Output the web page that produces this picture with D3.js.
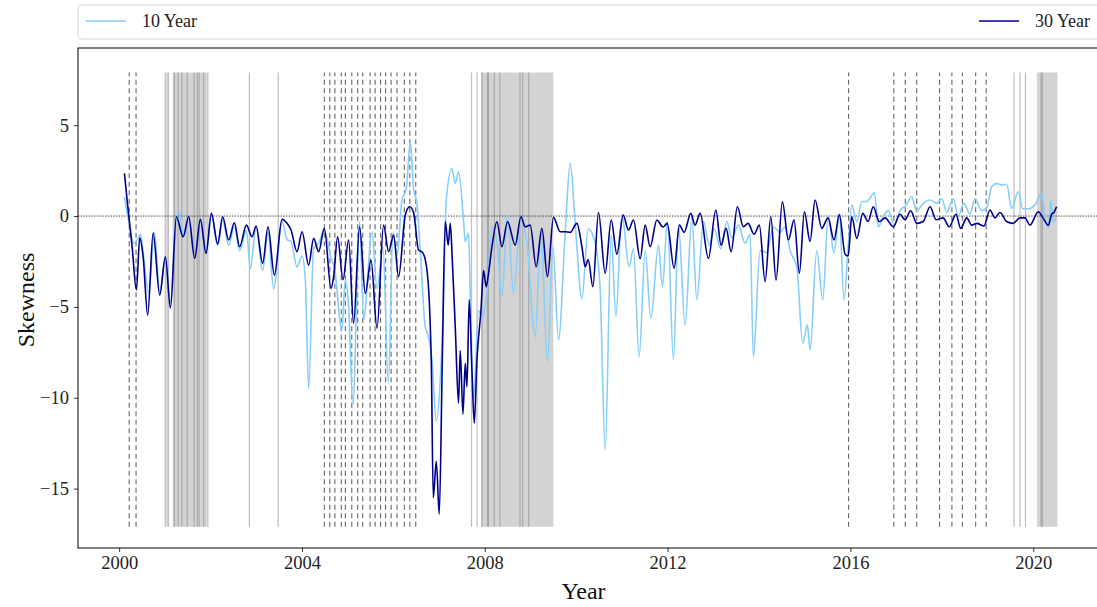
<!DOCTYPE html>
<html>
<head>
<meta charset="utf-8">
<script src="https://cdn.jsdelivr.net/npm/d3@7"></script>
<style>
  html, body { margin: 0; padding: 0; background: #fff; }
  svg { display: block; font-family: "Liberation Serif", "Times New Roman", serif; }
</style>
</head>
<body>
<svg id="chart" width="1097" height="607"></svg>
<script>
// ---- Skewness of the 10-year series (decimal year, value) ----
const years10 = [2000.116,2000.16,2000.247,2000.313,2000.394,2000.466,2000.525,2000.647,2000.772,2000.888,2001.012,2001.122,2001.253,2001.325,2001.4,2001.522,2001.653,2001.778,2001.902,2002.018,2002.156,2002.265,2002.397,2002.521,2002.637,2002.784,2002.871,2002.996,2003.14,2003.258,2003.38,2003.564,2003.674,2003.761,2003.892,2004.002,2004.074,2004.146,2004.255,2004.365,2004.489,2004.636,2004.708,2004.876,2004.948,2005.021,2005.113,2005.261,2005.349,2005.532,2005.642,2005.773,2005.889,2005.992,2006.079,2006.188,2006.282,2006.37,2006.442,2006.516,2006.589,2006.698,2006.764,2006.845,2006.939,2007.026,2007.098,2007.157,2007.282,2007.354,2007.426,2007.535,2007.573,2007.645,2007.682,2007.754,2007.864,2007.944,2008.047,2008.157,2008.266,2008.375,2008.498,2008.629,2008.791,2008.922,2009.103,2009.228,2009.372,2009.49,2009.613,2009.76,2009.869,2009.978,2010.125,2010.263,2010.415,2010.524,2010.635,2010.766,2010.868,2010.999,2011.158,2011.253,2011.378,2011.509,2011.633,2011.8,2011.887,2011.996,2012.128,2012.237,2012.383,2012.53,2012.64,2012.784,2012.915,2013.018,2013.164,2013.295,2013.405,2013.549,2013.696,2013.805,2013.877,2014.024,2014.17,2014.315,2014.461,2014.57,2014.68,2014.826,2014.957,2015.058,2015.117,2015.263,2015.394,2015.516,2015.64,2015.758,2015.861,2015.955,2016.03,2016.14,2016.25,2016.36,2016.43,2016.525,2016.61,2016.72,2016.83,2016.955,2017.085,2017.217,2017.341,2017.45,2017.595,2017.743,2017.888,2017.998,2018.107,2018.25,2018.36,2018.484,2018.617,2018.725,2018.871,2018.98,2019.09,2019.2,2019.31,2019.418,2019.528,2019.672,2019.768,2019.891,2020.037,2020.183,2020.255,2020.34,2020.38,2020.437,2020.5];
const skew10 = [1.06,0.4,-0.77,-1.5,-1.32,-1.0,-2.0,-4.24,-0.86,-4.2,-2.3,-4.8,0.0,0.24,-1.1,-0.1,-2.3,-0.3,-2.0,0.05,-1.6,-0.2,-1.6,-0.6,-1.9,-0.8,-2.9,-0.6,-3.0,-0.9,-4.0,-0.3,-1.3,-1.4,-2.8,-2.2,-3.5,-9.5,-1.8,-1.5,-0.8,-2.3,-2.8,-6.3,-3.5,-5.0,-10.4,-0.3,-5.7,-0.86,-4.0,-1.7,-9.2,-0.9,-2.2,0.88,1.5,4.1,1.5,0.7,-1.9,-6.1,-6.6,-7.9,-11.3,-9.0,-4.6,0.88,2.6,1.8,2.44,-0.22,-1.4,-0.95,-4.3,-10.1,-5.2,-5.6,-4.26,-0.6,-1.4,-4.44,0.06,-4.26,-0.05,-1.5,-6.64,-0.9,-8.0,-1.69,-6.8,-0.9,2.9,-0.4,-4.55,-0.7,-1.5,-4.0,-12.88,-1.0,-5.54,0.1,-2.79,-1.8,-7.74,-1.9,-5.63,-1.6,-3.89,-0.3,-7.93,-0.5,-6.0,-0.1,-4.62,-0.3,-1.6,-0.7,-1.8,-0.3,-1.2,-0.5,-1.5,-1.0,-7.74,-1.9,-2.0,-0.6,-0.9,-0.6,-1.9,-2.8,-7.0,-6.0,-7.37,-1.9,-4.62,0.0,-2.05,0.08,-4.62,-1.5,0.6,-0.3,0.8,0.8,1.0,1.28,-0.59,0.0,0.3,-0.5,0.3,0.6,1.06,0.3,0.7,0.88,0.7,0.95,0.2,0.95,0.0,0.7,0.1,0.97,0.3,0.45,1.61,1.8,1.7,1.75,0.42,1.34,0.4,0.4,0.6,1.25,0.0,-0.68,0.9,-0.31,-0.1];

// ---- Skewness of the 30-year series (decimal year, value) ----
const years30 = [2000.116,2000.175,2000.284,2000.378,2000.45,2000.525,2000.625,2000.744,2000.888,2001.012,2001.122,2001.253,2001.4,2001.522,2001.653,2001.778,2001.902,2002.018,2002.156,2002.265,2002.397,2002.521,2002.637,2002.784,2002.908,2002.996,2003.14,2003.258,2003.396,2003.564,2003.674,2003.761,2003.892,2004.002,2004.146,2004.255,2004.365,2004.489,2004.636,2004.693,2004.78,2004.898,2005.021,2005.13,2005.261,2005.386,2005.511,2005.642,2005.786,2005.896,2006.005,2006.114,2006.261,2006.355,2006.442,2006.551,2006.639,2006.735,2006.829,2006.873,2006.939,2007.004,2007.07,2007.135,2007.2,2007.245,2007.289,2007.354,2007.426,2007.463,2007.522,2007.573,2007.61,2007.66,2007.719,2007.77,2007.829,2007.916,2007.973,2008.032,2008.082,2008.157,2008.266,2008.375,2008.498,2008.666,2008.791,2008.885,2008.994,2009.125,2009.25,2009.372,2009.503,2009.65,2009.76,2009.87,2010.015,2010.125,2010.197,2010.263,2010.365,2010.488,2010.635,2010.766,2010.89,2011.028,2011.144,2011.253,2011.4,2011.509,2011.618,2011.765,2011.9,2011.99,2012.143,2012.259,2012.362,2012.508,2012.6,2012.712,2012.893,2013.055,2013.17,2013.28,2013.39,2013.527,2013.658,2013.761,2013.892,2014.008,2014.133,2014.258,2014.373,2014.511,2014.643,2014.767,2014.883,2014.993,2015.117,2015.227,2015.373,2015.51,2015.64,2015.758,2015.883,2015.95,2016.03,2016.14,2016.27,2016.385,2016.5,2016.632,2016.757,2016.939,2017.085,2017.195,2017.319,2017.45,2017.59,2017.743,2017.874,2018.027,2018.163,2018.31,2018.413,2018.544,2018.653,2018.769,2018.922,2019.053,2019.162,2019.272,2019.418,2019.562,2019.709,2019.818,2019.928,2020.11,2020.213,2020.33,2020.403,2020.453,2020.51];
const skew30 = [2.35,0.88,-1.69,-4.07,-1.2,-2.24,-5.45,-0.94,-4.35,-2.24,-5.06,-0.04,-1.14,-0.04,-2.33,-0.18,-2.05,0.15,-1.54,-0.04,-1.32,-0.37,-1.69,-0.5,-1.14,-0.55,-2.6,-0.59,-3.25,-0.18,-0.4,-0.77,-1.96,-0.86,-2.7,-1.23,-1.96,-0.68,-3.98,-3.34,-1.14,-3.5,-1.32,-5.9,-0.59,-4.26,-2.42,-6.18,-0.5,-1.96,-1.05,-3.34,0.06,0.51,0.2,-1.87,-2.0,-2.97,-7.9,-15.5,-13.5,-16.4,-8.0,-0.3,-1.6,-0.4,-2.4,-6.1,-10.3,-7.4,-10.9,-8.1,-9.4,-4.6,-8.5,-11.4,-7.9,-5.2,-3.0,-3.9,-3.15,-1.69,-0.31,-1.69,-0.31,-1.6,-0.04,-0.59,-0.5,-2.79,-0.68,-3.34,-0.07,-0.86,-0.86,-0.9,-0.4,-1.69,-2.79,-2.4,-3.89,0.2,-3.15,-0.22,-2.1,0.06,-0.77,-0.22,-2.35,-0.5,-1.69,-0.22,-0.6,-0.4,-2.88,-0.5,-0.9,0.15,-0.5,0.15,-2.33,0.33,-1.6,-0.68,-1.96,0.51,-0.59,-0.4,-1.0,-0.5,-3.61,-0.04,-3.52,0.79,-1.32,-0.2,-3.15,0.24,-1.4,0.88,-0.68,-0.1,-1.32,0.08,-2.1,-2.2,-0.04,-1.23,0.15,-0.3,0.51,-0.31,-0.1,-0.59,0.1,-0.2,0.29,-0.4,-0.3,0.51,-0.2,-0.1,-0.59,0.1,-0.68,-0.1,-0.5,-0.4,-0.55,0.33,-0.1,0.2,-0.3,-0.4,-0.1,-0.1,-0.5,0.24,-0.1,-0.5,0.1,0.2,0.51];

// ---- Policy events ----
const rateHikes = [2000.22,2000.37,2004.49,2004.61,2004.72,2004.86,2004.95,2005.09,2005.22,2005.33,2005.49,2005.6,2005.72,2005.83,2005.95,2006.08,2006.24,2006.36,2006.49,2015.96,2016.95,2017.2,2017.45,2017.95,2018.22,2018.45,2018.74,2018.97];
const rateCuts = [2001.01,2001.05,2001.08,2001.21,2001.29,2001.37,2001.49,2001.64,2001.71,2001.75,2001.85,2001.94,2002.85,2003.48,2007.71,2007.83,2007.94,2008.06,2008.08,2008.21,2008.33,2008.77,2008.83,2008.96,2019.58,2019.71,2019.83,2020.17,2020.2];
const recessions = [[2001.17, 2001.92], [2007.92, 2009.5], [2020.08, 2020.53]];
const eventRange = [-17.1, 7.9];

const xTicks = [2000, 2004, 2008, 2012, 2016, 2020];
const yTicks = [5, 0, -5, -10, -15];
const seriesNames = ["10 Year", "30 Year"];
const seriesColors = ["#87cefa", "#00008b"];

// ---- Layout ----
const svg = d3.select("#chart");
const plotLeft = 78, plotRight = 1105, plotTop = 48, plotBottom = 548;

const x = d3.scaleLinear().domain([1999.1, 2021.57]).range([plotLeft, plotRight]);
const y = d3.scaleLinear().domain([-18.27, 9.25]).range([plotBottom, plotTop]);

const g = svg.append("g");

// recession shading
g.selectAll("rect.rec").data(recessions).join("rect")
  .attr("class", "rec")
  .attr("x", d => x(d[0]))
  .attr("width", d => x(d[1]) - x(d[0]))
  .attr("y", y(eventRange[1]))
  .attr("height", y(eventRange[0]) - y(eventRange[1]))
  .attr("fill", "#d3d3d3");

// rate cuts (solid)
g.selectAll("line.cut").data(rateCuts).join("line")
  .attr("class", "cut")
  .attr("x1", d => x(d)).attr("x2", d => x(d))
  .attr("y1", y(eventRange[0])).attr("y2", y(eventRange[1]))
  .attr("stroke", "#808080").attr("stroke-opacity", 0.5).attr("stroke-width", 1.2);

// rate hikes (dashed)
g.selectAll("line.hike").data(rateHikes).join("line")
  .attr("class", "hike")
  .attr("x1", d => x(d)).attr("x2", d => x(d))
  .attr("y1", y(eventRange[0])).attr("y2", y(eventRange[1]))
  .attr("stroke", "#666").attr("stroke-width", 1.1)
  .attr("stroke-dasharray", "5,3.5");

// zero reference
g.append("line")
  .attr("x1", plotLeft).attr("x2", plotRight)
  .attr("y1", y(0)).attr("y2", y(0))
  .attr("stroke", "#222").attr("stroke-width", 0.8)
  .attr("stroke-dasharray", "1.5,1.2");

// series lines
const line = d3.line().x(d => x(d[0])).y(d => y(d[1])).curve(d3.curveMonotoneX);
const s10 = years10.map((t, i) => [t, skew10[i]]);
const s30 = years30.map((t, i) => [t, skew30[i]]);

g.append("path").datum(s10).attr("d", line)
  .attr("fill", "none").attr("stroke", seriesColors[0]).attr("stroke-width", 1.6)
  .attr("stroke-linejoin", "round");
g.append("path").datum(s30).attr("d", line)
  .attr("fill", "none").attr("stroke", seriesColors[1]).attr("stroke-width", 1.6)
  .attr("stroke-linejoin", "round");

// frame
g.append("rect")
  .attr("x", plotLeft).attr("y", plotTop)
  .attr("width", plotRight - plotLeft).attr("height", plotBottom - plotTop)
  .attr("fill", "none").attr("stroke", "#000").attr("stroke-width", 1);

// axes
const xAxis = d3.axisBottom(x).tickValues(xTicks).tickFormat(d3.format("d")).tickSize(4).tickPadding(4);
const yAxis = d3.axisLeft(y).tickValues(yTicks).tickFormat(d => d < 0 ? "\u2212" + Math.abs(d) : d).tickSize(4).tickPadding(5);

const gx = svg.append("g").attr("transform", `translate(0,${plotBottom})`).call(xAxis);
const gy = svg.append("g").attr("transform", `translate(${plotLeft},0)`).call(yAxis);
[gx, gy].forEach(a => {
  a.select(".domain").remove();
  a.selectAll("text").attr("font-family", "Liberation Serif, serif").attr("font-size", 18.5).attr("fill", "#222");
  a.selectAll("line").attr("stroke", "#000").attr("stroke-width", 0.8);
});

// axis titles
svg.append("text").attr("x", (plotLeft + plotRight) / 2 - 8).attr("y", 599)
  .attr("text-anchor", "middle").attr("font-size", 24).attr("fill", "#111").text("Year");
svg.append("text").attr("transform", `translate(34,${(plotTop + plotBottom) / 2 + 2}) rotate(-90)`)
  .attr("text-anchor", "middle").attr("font-size", 24).attr("fill", "#111").text("Skewness");

// legend
const lg = svg.append("g");
lg.append("rect").attr("x", plotLeft).attr("y", 5).attr("width", plotRight - plotLeft).attr("height", 34)
  .attr("rx", 3).attr("fill", "#fff").attr("stroke", "#d6d6d6").attr("stroke-width", 1);
const legendItems = [
  { name: seriesNames[0], color: seriesColors[0], x0: 86 },
  { name: seriesNames[1], color: seriesColors[1], x0: 979 }
];
legendItems.forEach(it => {
  lg.append("line").attr("x1", it.x0).attr("x2", it.x0 + 40).attr("y1", 21).attr("y2", 21)
    .attr("stroke", it.color).attr("stroke-width", 1.5);
  lg.append("text").attr("x", it.x0 + 56).attr("y", 27).attr("font-size", 18).attr("fill", "#222").text(it.name);
});
</script>
</body>
</html>
